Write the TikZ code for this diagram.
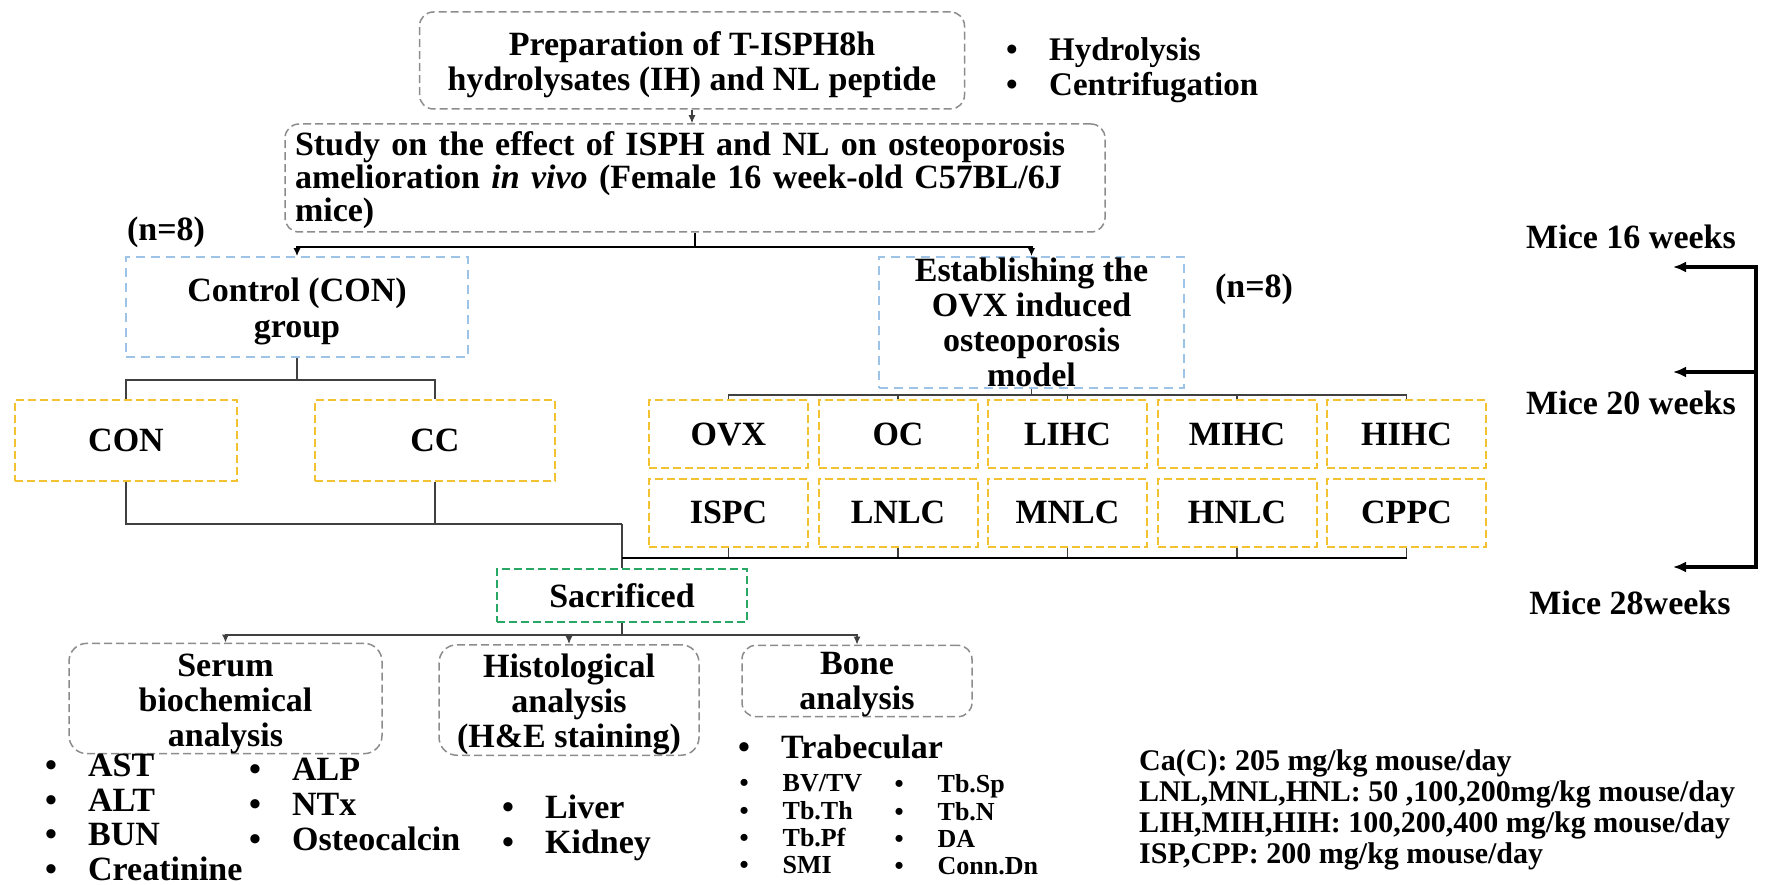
\documentclass[tikz,border=0pt]{standalone}
\usepackage{fontspec}
\setmainfont{Liberation Serif}
\usepackage{xcolor}
\usepackage{tikz}
\usetikzlibrary{arrows.meta,positioning,calc}
\definecolor{boxgray}{RGB}{140,140,140}
\definecolor{boxblue}{RGB}{157,195,230}
\definecolor{boxyel}{RGB}{242,194,48}
\definecolor{boxgrn}{RGB}{40,168,100}
\newcommand{\bitem}{\makebox[43pt][l]{\textbullet}}
\newcommand{\hstr}[1]{\rule{0pt}{#1}}
\tikzset{
gbox/.style = {draw=boxgray, line width=1.5pt, dash pattern=on 8pt off 4pt, rounded corners=14pt, align=center, inner sep=0pt, font=\bfseries\fontsize{34}{35}\selectfont},
bbox/.style = {draw=boxblue, line width=1.5pt, dash pattern=on 9pt off 6pt, align=center, inner sep=0pt, font=\bfseries\fontsize{34}{35}\selectfont},
ybox/.style = {draw=boxyel, line width=2pt, dash pattern=on 8pt off 4pt, minimum width=159pt, minimum height=68pt, inner sep=0pt, font=\bfseries\fontsize{34}{35}\selectfont},
sbox/.style = {draw=boxgrn, line width=2pt, dash pattern=on 8pt off 4pt, inner sep=0pt, font=\bfseries\fontsize{34}{35}\selectfont},
lbl/.style = {inner sep=0pt, font=\bfseries\fontsize{34}{35}\selectfont},
lst/.style = {lbl, align=left, anchor=north west},
tmp/.style = {coordinate},
conn/.style = {draw=black!75, line width=1.2pt},
bus/.style = {draw=black, line width=2.2pt},
brk/.style = {draw=black, line width=4pt, >={Latex[length=13pt,width=11pt]}}
}
\begin{document}
\begin{tikzpicture}[x=1pt, y=-1pt, node distance=169.5pt, >={Latex[length=8pt,width=7pt]}]
    \useasboundingbox (0,0) rectangle (1767,885);
    % top of the study
    \node [gbox, minimum width=545pt, minimum height=97pt] (prep) at (692,60.5) {\hstr{33pt}Preparation of T-ISPH8h\\hydrolysates (IH) and NL peptide};
    \node [lst, font=\bfseries\fontsize{33}{35}\selectfont] (hyd) at (1006,37) {\bitem Hydrolysis\\\bitem Centrifugation};
    \node [gbox, minimum width=820pt, minimum height=108pt, text width=800pt, align=left, font=\bfseries\fontsize{34}{33}\selectfont] (study) at (695,178) {\hstr{29pt}Study on the effect of ISPH and NL on osteoporosis\\amelioration \textit{in vivo} (Female 16 week-old C57BL/6J\\mice)};

    % groups
    \node [lbl] (n1) at (166,232) {(n=8)};
    \node [bbox, minimum width=342pt, minimum height=100pt, font=\bfseries\fontsize{34}{36}\selectfont] (ctrl) at (297,307) {\hstr{33pt}Control (CON)\\group};
    \node [bbox, minimum width=305pt, minimum height=131pt] (estb) at (1031.5,322.5) {Establishing the\\OVX induced\\osteoporosis\\model};
    \node [lbl] (n2) at (1254,289) {(n=8)};

    \node [ybox, minimum width=222pt, minimum height=81pt] (con) at (126,440.5) {CON};
    \node [ybox, minimum width=240pt, minimum height=81pt] (cc) at (435,440.5) {CC};

    \node [ybox] (ovx) at (728.5,434) {OVX};
    \node [ybox, right of=ovx] (oc) {OC};
    \node [ybox, right of=oc] (lihc) {LIHC};
    \node [ybox, right of=lihc] (mihc) {MIHC};
    \node [ybox, right of=mihc] (hihc) {HIHC};
    \node [ybox, below of=ovx, node distance=78.5pt] (ispc) {ISPC};
    \node [ybox, right of=ispc] (lnlc) {LNLC};
    \node [ybox, right of=lnlc] (mnlc) {MNLC};
    \node [ybox, right of=mnlc] (hnlc) {HNLC};
    \node [ybox, right of=hnlc] (cppc) {CPPC};

    % analysis
    \node [sbox, minimum width=250pt, minimum height=53pt] (sac) at (622,595.5) {Sacrificed};
    \node [gbox, minimum width=313pt, minimum height=106pt, rounded corners=18pt] (serum) at (225.5,698.5) {\hstr{33pt}Serum\\biochemical\\analysis};
    \node [gbox, minimum width=260pt, minimum height=106pt, rounded corners=18pt] (histo) at (569,700) {\hstr{33pt}Histological\\analysis\\(H\&E staining)};
    \node [gbox, minimum width=230pt, minimum height=64pt] (bone) at (857,681) {\hstr{29pt}Bone\\analysis};

    \node [lst, font=\bfseries\fontsize{34}{34.5}\selectfont] (serA) at (45,754) {\bitem AST\\\bitem ALT\\\bitem BUN\\\bitem Creatinine};
    \node [lst] (serB) at (249,758) {\bitem ALP\\\bitem NTx\\\bitem Osteocalcin};
    \node [lst] (hisL) at (502,795) {\bitem Liver\\\bitem Kidney};
    \node [lbl, anchor=west] (trab) at (738,747) {\bitem Trabecular};
    \node [lst, font=\bfseries\fontsize{26}{27.3}\selectfont] (bonA) at (739.5,774.5) {\bitem BV/TV\\\bitem Tb.Th\\\bitem Tb.Pf\\\bitem SMI};
    \node [lst, font=\bfseries\fontsize{26}{27.3}\selectfont] (bonB) at (894.5,774.5) {\bitem Tb.Sp\\\bitem Tb.N\\\bitem DA\\\bitem Conn.Dn};

    \node [lbl, align=left, anchor=west, font=\bfseries\fontsize{30}{31}\selectfont] (dose) at (1139,810) {Ca(C): 205 mg/kg mouse/day\\LNL,MNL,HNL: 50 ,100,200mg/kg mouse/day\\LIH,MIH,HIH: 100,200,400 mg/kg mouse/day\\ISP,CPP: 200 mg/kg mouse/day};

    % time line
    \node [lbl] (m16) at (1631,237) {Mice 16 weeks};
    \node [lbl] (m20) at (1631,403) {Mice 20 weeks};
    \node [lbl] (m28) at (1630,603) {Mice 28weeks};
    \node [tmp] (b16) at (1756,267) {};
    \node [tmp] (t16) at (1673,267) {};
    \node [tmp] (b20) at (1756,372) {};
    \node [tmp] (t20) at (1673,372) {};
    \node [tmp] (b28) at (1756,567) {};
    \node [tmp] (t28) at (1673,567) {};

    % joints
    \node [tmp] (sbus) at (695,247) {};
    \node [tmp] (cj) at (297,380) {};
    \node [tmp] (jn) at (622,524) {};
    \node [tmp] (tb) at (1031.5,395) {};
    \node [tmp] (bb) at (622,558) {};
    \node [tmp] (sb) at (622,635) {};

    \draw [->, conn] (prep) -- (prep |- study.north);
    \draw [bus] (study) -- (sbus);
    \draw [->, bus] (sbus) -| (ctrl);
    \draw [->, bus] (sbus) -| (estb);

    \draw [conn] (ctrl) -- (cj);
    \draw [conn] (cj) -| (con);
    \draw [conn] (cj) -| (cc);
    \draw [conn] (con) |- (jn);
    \draw [conn] (cc) |- (jn);
    \draw [conn] (jn) -- (sac);

    \draw [conn] (estb) -- (tb);
    \draw [conn] (tb) -| (ovx);
    \draw [conn] (tb) -| (oc);
    \draw [conn] (tb) -| (lihc);
    \draw [conn] (tb) -| (mihc);
    \draw [conn] (tb) -| (hihc);
    \draw [conn] (ispc) |- (bb);
    \draw [conn] (lnlc) |- (bb);
    \draw [conn] (mnlc) |- (bb);
    \draw [conn] (hnlc) |- (bb);
    \draw [conn] (cppc) |- (bb);
    \draw [bus] (bb) -- (bb -| cppc);

    \draw [conn] (sac) -- (sb);
    \draw [->, conn] (sb) -| (serum);
    \draw [->, conn] (sb) -| (histo);
    \draw [->, conn] (sb) -| (bone);

    \draw [<->, brk] (t16) -- (b16) -- (b28) -- (t28);
    \draw [->, brk] (b20) -- (t20);
\end{tikzpicture}
\end{document}
